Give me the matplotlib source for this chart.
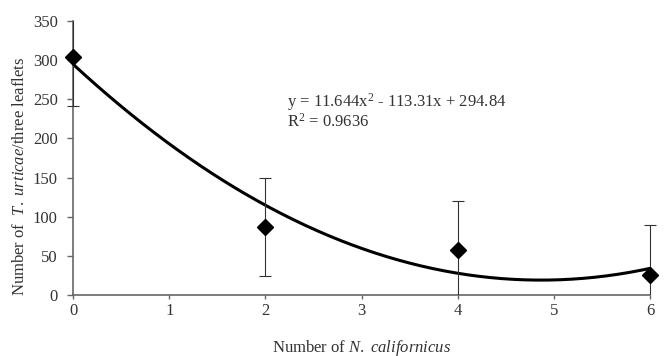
import matplotlib.pyplot as plt
import matplotlib.patches as mpatches
import numpy as np

plt.rcParams['font.family'] = ['Liberation Serif', 'DejaVu Serif']
plt.rcParams['mathtext.fontset'] = 'custom'
plt.rcParams['mathtext.rm'] = 'Liberation Serif'
plt.rcParams['mathtext.it'] = 'Liberation Serif:italic'

# data
predators = [0, 2, 4, 6]
mites = [304, 87, 57, 26]
err = [63, 63, 63, 63]
coef = [11.644, -113.31, 294.84]   # trendline y = a x^2 + b x + c
eq_text = 'y = 11.644x$^{2}$ - 113.31x + 294.84'
r2_text = 'R$^{2}$ = 0.9636'

fig = plt.figure(figsize=(6.64, 3.56), dpi=100)
ax = fig.add_axes([0.110, 0.171, 0.869, 0.770])

xs = np.linspace(0, 6, 200)
ax.plot(xs, np.polyval(coef, xs), color='black', lw=2.2, zorder=3)
eb = ax.errorbar(predators, mites, yerr=err, fmt='D', color='black', ms=8,
                 ecolor='#333333', elinewidth=0.8, capsize=4, capthick=0.8,
                 zorder=4)

# clip only at top/bottom so the bars at x=6 stay whole
clip = mpatches.Rectangle((-0.05, 0), 1.1, 1, transform=ax.transAxes,
                          fill=False, visible=False)
ax.add_patch(clip)
for art in [eb.lines[0], *eb.lines[1], *eb.lines[2]]:
    art.set_clip_path(clip)

ax.set_xlim(0, 6)
ax.set_ylim(0, 350)
ax.set_xticks(range(7))
ax.set_yticks(range(0, 351, 50))
for s in ['top', 'right']:
    ax.spines[s].set_visible(False)
for s in ['left', 'bottom']:
    ax.spines[s].set_color('#666666')
    ax.spines[s].set_linewidth(1.2)
ax.tick_params(labelsize=12, labelcolor='#333333', color='#666666', width=1)
ax.tick_params(axis='x', length=3, pad=3)
ax.tick_params(axis='y', length=4, pad=7)

ax.set_xlabel('Number of $\\it{N.\\ californicus}$', fontsize=12,
              labelpad=13, color='#333333')
ax.set_ylabel('Number of  $\\it{T.\\ urticae}$/three leaflets', fontsize=12,
              color='#333333')
ax.yaxis.set_label_coords(-0.078, 0.434)

ax.text(2.22, 246, eq_text, fontsize=12, va='center', color='#333333')
ax.text(2.22, 221, r2_text, fontsize=12, va='center', color='#333333')

fig.savefig('out.png', dpi=100)
